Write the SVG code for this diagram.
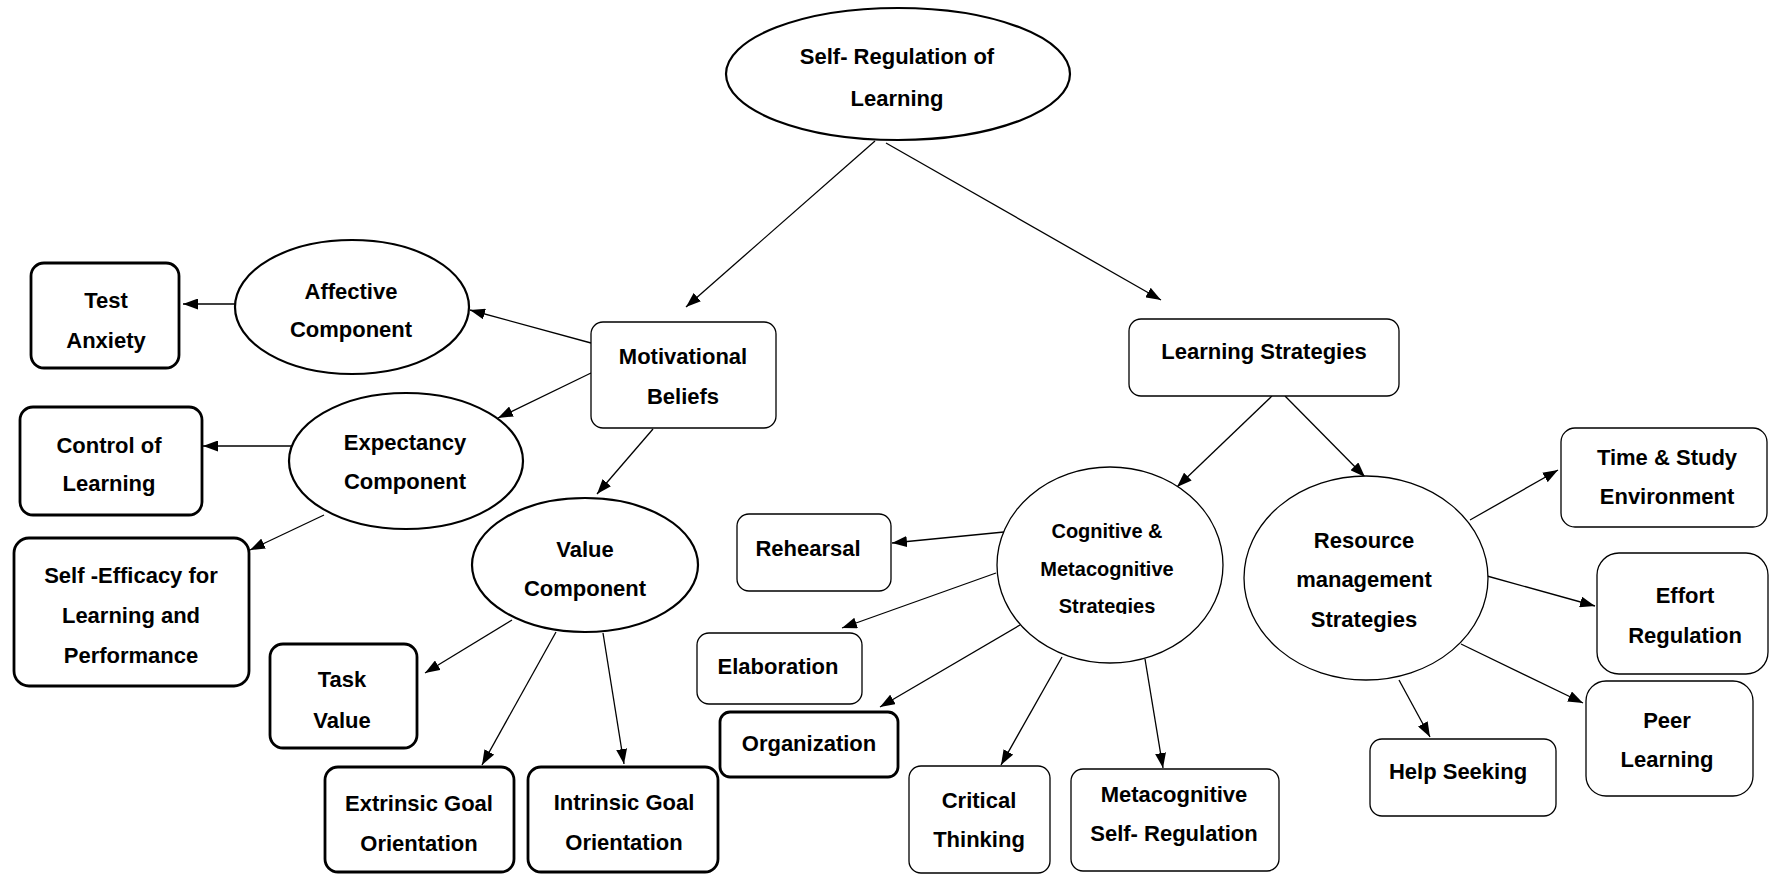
<svg xmlns="http://www.w3.org/2000/svg" width="1769" height="874" viewBox="0 0 1769 874">
<style>
text{font-family:"Liberation Sans",Arial,sans-serif;font-weight:bold;font-size:22px;fill:#000;text-anchor:middle}
.thin{fill:#fff;stroke:#000;stroke-width:1.3}
.thick{fill:#fff;stroke:#000;stroke-width:2.8}
.ell{fill:#fff;stroke:#000;stroke-width:2.2}
.conn line{stroke:#000;stroke-width:1.3;marker-end:url(#ah)}
.sm{font-size:20px}
</style>
<defs>
<marker id="ah" markerUnits="userSpaceOnUse" markerWidth="15" markerHeight="11" refX="15" refY="5.5" orient="auto">
<path d="M0,0 L15,5.5 L0,11 z" fill="#000"/>
</marker>
<clipPath id="cogclip"><rect x="990" y="460" width="240" height="154"/></clipPath>
</defs>
<rect width="1769" height="874" fill="#fff"/>
<g class="conn">
<line x1="875" y1="141" x2="686" y2="307"/>
<line x1="886" y1="143" x2="1161" y2="300"/>
<line x1="591" y1="343" x2="470" y2="310"/>
<line x1="591" y1="373" x2="498" y2="418"/>
<line x1="653" y1="429" x2="597" y2="494"/>
<line x1="238" y1="304" x2="183" y2="304"/>
<line x1="292" y1="446" x2="203" y2="446"/>
<line x1="324" y1="515" x2="250" y2="550"/>
<line x1="512" y1="620" x2="425" y2="673"/>
<line x1="556" y1="632" x2="482" y2="765"/>
<line x1="603" y1="633" x2="624" y2="764"/>
<line x1="1272" y1="396" x2="1177" y2="487"/>
<line x1="1285" y1="396" x2="1365" y2="477"/>
<line x1="1004" y1="532" x2="892" y2="543"/>
<line x1="996" y1="573" x2="842" y2="628"/>
<line x1="1020" y1="625" x2="880" y2="707"/>
<line x1="1062" y1="657" x2="1001" y2="765"/>
<line x1="1145" y1="659" x2="1163" y2="768"/>
<line x1="1470" y1="520" x2="1558" y2="470"/>
<line x1="1487" y1="576" x2="1595" y2="606"/>
<line x1="1461" y1="644" x2="1583" y2="703"/>
<line x1="1399" y1="680" x2="1430" y2="737"/>
</g>
<g id="self-regulation"><ellipse class="ell" cx="898" cy="74" rx="172" ry="66"/><text x="897" y="64">Self- Regulation of</text><text x="897" y="106">Learning</text></g>
<g id="motivational-beliefs"><rect class="thin" x="591" y="322" width="185" height="106" rx="12"/><text x="683" y="364">Motivational</text><text x="683" y="404">Beliefs</text></g>
<g id="learning-strategies"><rect class="thin" x="1129" y="319" width="270" height="77" rx="12"/><text x="1264" y="359">Learning Strategies</text></g>
<g id="affective"><ellipse class="ell" cx="352" cy="307" rx="117" ry="67"/><text x="351" y="299">Affective</text><text x="351" y="337">Component</text></g>
<g id="test-anxiety"><rect class="thick" x="31" y="263" width="148" height="105" rx="13"/><text x="106" y="308">Test</text><text x="106" y="348">Anxiety</text></g>
<g id="expectancy"><ellipse class="ell" cx="406" cy="461" rx="117" ry="68"/><text x="405" y="450">Expectancy</text><text x="405" y="489">Component</text></g>
<g id="control-of-learning"><rect class="thick" x="20" y="407" width="182" height="108" rx="13"/><text x="109" y="453">Control of</text><text x="109" y="491">Learning</text></g>
<g id="self-efficacy"><rect class="thick" x="14" y="538" width="235" height="148" rx="15"/><text x="131" y="583">Self -Efficacy for</text><text x="131" y="623">Learning and</text><text x="131" y="663">Performance</text></g>
<g id="value"><ellipse class="ell" cx="585" cy="565" rx="113" ry="67"/><text x="585" y="557">Value</text><text x="585" y="596">Component</text></g>
<g id="task-value"><rect class="thick" x="270" y="644" width="147" height="104" rx="13"/><text x="342" y="687">Task</text><text x="342" y="728">Value</text></g>
<g id="extrinsic"><rect class="thick" x="325" y="767" width="189" height="105" rx="13"/><text x="419" y="811">Extrinsic Goal</text><text x="419" y="851">Orientation</text></g>
<g id="intrinsic"><rect class="thick" x="528" y="767" width="190" height="105" rx="13"/><text x="624" y="810">Intrinsic Goal</text><text x="624" y="850">Orientation</text></g>
<g id="cognitive"><ellipse class="thin" cx="1110" cy="565" rx="113" ry="98"/><g clip-path="url(#cogclip)"><text class="sm" x="1107" y="538">Cognitive &amp;</text><text class="sm" x="1107" y="576">Metacognitive</text><text class="sm" x="1107" y="613">Strategies</text></g></g>
<g id="rehearsal"><rect class="thin" x="737" y="514" width="154" height="77" rx="12"/><text x="808" y="556">Rehearsal</text></g>
<g id="elaboration"><rect class="thin" x="697" y="633" width="165" height="71" rx="12"/><text x="778" y="674">Elaboration</text></g>
<g id="organization"><rect class="thick" x="720" y="712" width="178" height="65" rx="10"/><text x="809" y="751">Organization</text></g>
<g id="critical-thinking"><rect class="thin" x="909" y="766" width="141" height="107" rx="12"/><text x="979" y="808">Critical</text><text x="979" y="847">Thinking</text></g>
<g id="metacognitive-sr"><rect class="thin" x="1071" y="769" width="208" height="102" rx="12"/><text x="1174" y="802">Metacognitive</text><text x="1174" y="841">Self- Regulation</text></g>
<g id="resource"><ellipse class="thin" cx="1366" cy="578" rx="122" ry="102"/><text x="1364" y="548">Resource</text><text x="1364" y="587">management</text><text x="1364" y="627">Strategies</text></g>
<g id="time-study"><rect class="thin" x="1561" y="428" width="206" height="99" rx="14"/><text x="1667" y="465">Time &amp; Study</text><text x="1667" y="504">Environment</text></g>
<g id="effort"><rect class="thin" x="1597" y="553" width="171" height="121" rx="22"/><text x="1685" y="603">Effort</text><text x="1685" y="643">Regulation</text></g>
<g id="help-seeking"><rect class="thin" x="1370" y="739" width="186" height="77" rx="12"/><text x="1458" y="779">Help Seeking</text></g>
<g id="peer-learning"><rect class="thin" x="1586" y="681" width="167" height="115" rx="20"/><text x="1667" y="728">Peer</text><text x="1667" y="767">Learning</text></g>
</svg>
